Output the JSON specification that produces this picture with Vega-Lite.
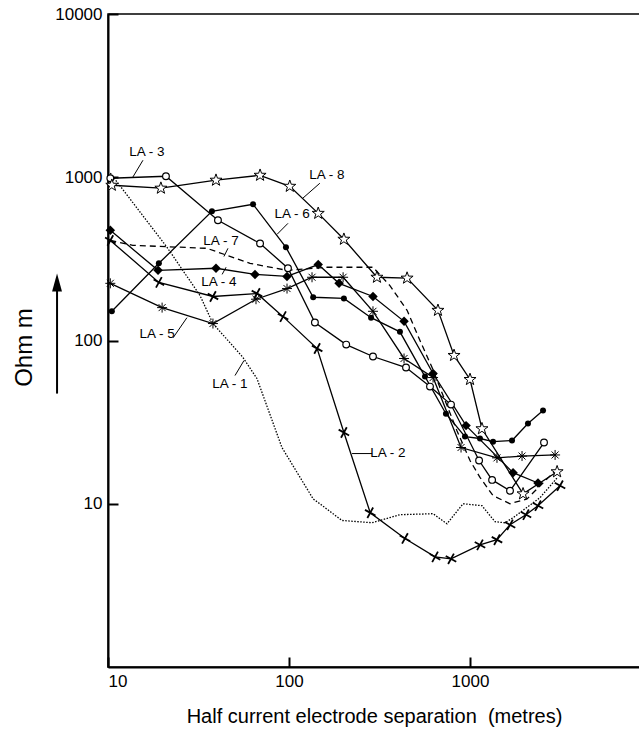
{
  "$schema": "https://vega.github.io/schema/vega-lite/v6.json",
  "width": 532,
  "height": 653,
  "autosize": {"type": "none"},
  "padding": {"left": 108, "top": 14, "right": 0, "bottom": 63},
  "background": "white",
  "config": {
    "view": {"stroke": "black", "strokeWidth": 1.5},
    "font": "Liberation Sans",
    "axis": {
      "domainColor": "black", "domainWidth": 2, "tickColor": "black", "tickWidth": 2,
      "tickSize": -10, "labelColor": "black", "labelFont": "Liberation Sans", "labelFontSize": 17,
      "labelPadding": 16, "grid": false, "titleColor": "black", "titleFont": "Liberation Sans",
      "titleFontWeight": "normal"
    }
  },
  "datasets": {
    "curves": [
      {"series": "LA-1", "x": 10.3, "y": 1059}, {"series": "LA-1", "x": 21.2, "y": 372}, {"series": "LA-1", "x": 32.2, "y": 189},
      {"series": "LA-1", "x": 38, "y": 127}, {"series": "LA-1", "x": 55.7, "y": 78.7}, {"series": "LA-1", "x": 66.5, "y": 58.5},
      {"series": "LA-1", "x": 91.4, "y": 22.1}, {"series": "LA-1", "x": 136, "y": 10.7}, {"series": "LA-1", "x": 148, "y": 10},
      {"series": "LA-1", "x": 196, "y": 7.9}, {"series": "LA-1", "x": 288, "y": 7.65}, {"series": "LA-1", "x": 410, "y": 8.57},
      {"series": "LA-1", "x": 625, "y": 8.69}, {"series": "LA-1", "x": 746, "y": 7.54}, {"series": "LA-1", "x": 915, "y": 10},
      {"series": "LA-1", "x": 1164, "y": 9.73}, {"series": "LA-1", "x": 1374, "y": 7.76}, {"series": "LA-1", "x": 1560, "y": 7.65},
      {"series": "LA-1", "x": 1729, "y": 8.21}, {"series": "LA-1", "x": 2437, "y": 10.9}, {"series": "LA-1", "x": 3027, "y": 14.4},

      {"series": "LA-2", "x": 10.3, "y": 410}, {"series": "LA-2", "x": 19.1, "y": 227}, {"series": "LA-2", "x": 38, "y": 186},
      {"series": "LA-2", "x": 66.5, "y": 194}, {"series": "LA-2", "x": 92.7, "y": 140}, {"series": "LA-2", "x": 143, "y": 89.3},
      {"series": "LA-2", "x": 201, "y": 27.3}, {"series": "LA-2", "x": 281, "y": 8.81}, {"series": "LA-2", "x": 437, "y": 6.13},
      {"series": "LA-2", "x": 641, "y": 4.73}, {"series": "LA-2", "x": 785, "y": 4.6}, {"series": "LA-2", "x": 1135, "y": 5.6},
      {"series": "LA-2", "x": 1409, "y": 6.02}, {"series": "LA-2", "x": 1663, "y": 7.43}, {"series": "LA-2", "x": 2037, "y": 8.57},
      {"series": "LA-2", "x": 2374, "y": 9.73}, {"series": "LA-2", "x": 3142, "y": 12.9},

      {"series": "LA-3", "x": 10.3, "y": 986}, {"series": "LA-3", "x": 20.9, "y": 1014}, {"series": "LA-3", "x": 40.5, "y": 545},
      {"series": "LA-3", "x": 69.2, "y": 393}, {"series": "LA-3", "x": 98.7, "y": 277}, {"series": "LA-3", "x": 139, "y": 129},
      {"series": "LA-3", "x": 207, "y": 94.4}, {"series": "LA-3", "x": 291, "y": 79.8}, {"series": "LA-3", "x": 443, "y": 68.3},
      {"series": "LA-3", "x": 601, "y": 52.2}, {"series": "LA-3", "x": 785, "y": 40.5}, {"series": "LA-3", "x": 1122, "y": 18.4},
      {"series": "LA-3", "x": 1324, "y": 14.0}, {"series": "LA-3", "x": 1663, "y": 12.0}, {"series": "LA-3", "x": 2563, "y": 23.7},

      {"series": "LA-4", "x": 10.3, "y": 473}, {"series": "LA-4", "x": 18.9, "y": 269}, {"series": "LA-4", "x": 39.5, "y": 277},
      {"series": "LA-4", "x": 64.9, "y": 254}, {"series": "LA-4", "x": 97.5, "y": 247}, {"series": "LA-4", "x": 145, "y": 292},
      {"series": "LA-4", "x": 189, "y": 224}, {"series": "LA-4", "x": 291, "y": 186}, {"series": "LA-4", "x": 432, "y": 131},
      {"series": "LA-4", "x": 625, "y": 62.8}, {"series": "LA-4", "x": 951, "y": 30.1}, {"series": "LA-4", "x": 1729, "y": 15.5},
      {"series": "LA-4", "x": 2374, "y": 13.4},

      {"series": "LA-5", "x": 10.3, "y": 224}, {"series": "LA-5", "x": 19.9, "y": 159}, {"series": "LA-5", "x": 38, "y": 127},
      {"series": "LA-5", "x": 65.7, "y": 179}, {"series": "LA-5", "x": 97.5, "y": 208}, {"series": "LA-5", "x": 134, "y": 244},
      {"series": "LA-5", "x": 199, "y": 244}, {"series": "LA-5", "x": 291, "y": 151}, {"series": "LA-5", "x": 432, "y": 77.6},
      {"series": "LA-5", "x": 625, "y": 59.3}, {"series": "LA-5", "x": 892, "y": 22.1}, {"series": "LA-5", "x": 1409, "y": 19.1},
      {"series": "LA-5", "x": 1938, "y": 19.6}, {"series": "LA-5", "x": 2951, "y": 19.9},

      {"series": "LA-6", "x": 10.5, "y": 151}, {"series": "LA-6", "x": 19.1, "y": 297}, {"series": "LA-6", "x": 37.5, "y": 618},
      {"series": "LA-6", "x": 63.3, "y": 683}, {"series": "LA-6", "x": 96.2, "y": 372}, {"series": "LA-6", "x": 136, "y": 184},
      {"series": "LA-6", "x": 201, "y": 181}, {"series": "LA-6", "x": 284, "y": 138}, {"series": "LA-6", "x": 410, "y": 113},
      {"series": "LA-6", "x": 564, "y": 60.1}, {"series": "LA-6", "x": 736, "y": 35.6}, {"series": "LA-6", "x": 938, "y": 25.8},
      {"series": "LA-6", "x": 1135, "y": 25.1}, {"series": "LA-6", "x": 1340, "y": 24.0}, {"series": "LA-6", "x": 1706, "y": 24.4},
      {"series": "LA-6", "x": 2090, "y": 31.0}, {"series": "LA-6", "x": 2531, "y": 37.2},

      {"series": "LA-7", "x": 10.3, "y": 410}, {"series": "LA-7", "x": 13.7, "y": 383}, {"series": "LA-7", "x": 35.2, "y": 367},
      {"series": "LA-7", "x": 60.9, "y": 297}, {"series": "LA-7", "x": 97.5, "y": 269}, {"series": "LA-7", "x": 162, "y": 281},
      {"series": "LA-7", "x": 291, "y": 281}, {"series": "LA-7", "x": 361, "y": 217}, {"series": "LA-7", "x": 449, "y": 153},
      {"series": "LA-7", "x": 529, "y": 100}, {"series": "LA-7", "x": 617, "y": 68.3}, {"series": "LA-7", "x": 847, "y": 28},
      {"series": "LA-7", "x": 1000, "y": 18.4}, {"series": "LA-7", "x": 1135, "y": 14.5}, {"series": "LA-7", "x": 1340, "y": 11.2},
      {"series": "LA-7", "x": 1663, "y": 10.0}, {"series": "LA-7", "x": 2065, "y": 10.7}, {"series": "LA-7", "x": 2951, "y": 15.9},

      {"series": "LA-8", "x": 10.5, "y": 893}, {"series": "LA-8", "x": 19.6, "y": 857}, {"series": "LA-8", "x": 39.5, "y": 959},
      {"series": "LA-8", "x": 69.2, "y": 1028}, {"series": "LA-8", "x": 101, "y": 880}, {"series": "LA-8", "x": 145, "y": 601},
      {"series": "LA-8", "x": 201, "y": 417}, {"series": "LA-8", "x": 306, "y": 244}, {"series": "LA-8", "x": 449, "y": 241},
      {"series": "LA-8", "x": 665, "y": 153}, {"series": "LA-8", "x": 816, "y": 81}, {"series": "LA-8", "x": 1000, "y": 57.7},
      {"series": "LA-8", "x": 1164, "y": 28.8}, {"series": "LA-8", "x": 1963, "y": 11.5}, {"series": "LA-8", "x": 3027, "y": 15.7}
    ],
    "labels": [
      {"label": "LA - 1", "x": 47.2, "y": 54.5},
      {"label": "LA - 2", "x": 352, "y": 20.6},
      {"label": "LA - 3", "x": 16.4, "y": 1423},
      {"label": "LA - 4", "x": 41, "y": 227},
      {"label": "LA - 5", "x": 18.7, "y": 110},
      {"label": "LA - 6", "x": 104, "y": 593},
      {"label": "LA - 7", "x": 42.1, "y": 405},
      {"label": "LA - 8", "x": 162, "y": 1028}
    ],
    "leaders": [
      {"x": 15.6, "y": 1271, "x2": 13.7, "y2": 1000},
      {"x": 148, "y": 919, "x2": 119, "y2": 743},
      {"x": 98.7, "y": 522, "x2": 85.9, "y2": 447},
      {"x": 46.0, "y": 367, "x2": 43.7, "y2": 327},
      {"x": 42.7, "y": 254, "x2": 44.9, "y2": 281},
      {"x": 22.9, "y": 104, "x2": 27.3, "y2": 138},
      {"x": 50.3, "y": 61.0, "x2": 56.4, "y2": 75.4},
      {"x": 223, "y": 20.3, "x2": 288, "y2": 20.3}
    ],
    "arrow": [
      {"x": 5.23, "y": 47.3, "y2": 227}
    ]
  },
  "encoding": {
    "x": {
      "field": "x", "type": "quantitative",
      "scale": {"type": "log", "domain": [10, 8690], "nice": false},
      "axis": {
        "values": [10, 100, 1000], "format": "d", "labelFlush": true,
        "title": "Half current electrode separation\u00a0 (metres)", "titleFontSize": 20, "titlePadding": 17
      }
    },
    "y": {
      "field": "y", "type": "quantitative",
      "scale": {"type": "log", "domain": [1, 10000], "nice": false},
      "axis": {
        "values": [10, 100, 1000, 10000], "format": "d",
        "title": "Ohm m", "titleFontSize": 24,
        "titleAngle": -90, "titleX": -84, "titleY": 333, "titleAlign": "center", "titleBaseline": "middle"
      }
    }
  },
  "layer": [
    {
      "data": {"name": "curves"},
      "transform": [{"filter": "datum.series !== 'LA-1' && datum.series !== 'LA-7'"}],
      "mark": {"type": "line", "color": "black", "strokeWidth": 1.3},
      "encoding": {"detail": {"field": "series", "type": "nominal"}}
    },
    {
      "data": {"name": "curves"},
      "transform": [{"filter": "datum.series === 'LA-1'"}],
      "mark": {"type": "line", "color": "black", "strokeWidth": 1.3, "strokeDash": [1.5, 1.5]},
      "encoding": {}
    },
    {
      "data": {"name": "curves"},
      "transform": [{"filter": "datum.series === 'LA-7'"}],
      "mark": {"type": "line", "color": "black", "strokeWidth": 1.3, "strokeDash": [6, 4]},
      "encoding": {}
    },
    {
      "data": {"name": "curves"},
      "transform": [{"filter": "datum.series === 'LA-3'"}],
      "mark": {"type": "point", "shape": "circle", "filled": true, "fill": "white", "stroke": "black", "strokeWidth": 1.2, "size": 45, "opacity": 1}
    },
    {
      "data": {"name": "curves"},
      "transform": [{"filter": "datum.series === 'LA-6'"}],
      "mark": {"type": "point", "shape": "circle", "filled": true, "fill": "black", "size": 36, "opacity": 1}
    },
    {
      "data": {"name": "curves"},
      "transform": [{"filter": "datum.series === 'LA-4'"}],
      "mark": {"type": "point", "shape": "diamond", "filled": true, "fill": "black", "size": 90, "opacity": 1}
    },
    {
      "data": {"name": "curves"},
      "transform": [{"filter": "datum.series === 'LA-8'"}],
      "mark": {"type": "point", "shape": "M0,-1L0.235,-0.324L0.951,-0.309L0.38,0.124L0.588,0.809L0,0.4L-0.588,0.809L-0.38,0.124L-0.951,-0.309L-0.235,-0.324Z", "filled": true, "fill": "white", "stroke": "black", "strokeWidth": 1, "size": 160, "opacity": 1}
    },
    {
      "data": {"name": "curves"},
      "transform": [{"filter": "datum.series === 'LA-5'"}],
      "mark": {"type": "point", "shape": "M-1,0L1,0M0,-1L0,1M-0.7,-0.7L0.7,0.7M-0.7,0.7L0.7,-0.7", "filled": false, "stroke": "black", "strokeWidth": 1, "size": 100, "opacity": 1}
    },
    {
      "data": {"name": "curves"},
      "transform": [{"filter": "datum.series === 'LA-2'"}],
      "mark": {"type": "point", "shape": "M-1,-0.55L1,0.55M-0.55,1L0.55,-1", "filled": false, "stroke": "black", "strokeWidth": 1.8, "size": 110, "opacity": 1}
    },
    {
      "data": {"name": "leaders"},
      "mark": {"type": "rule", "color": "black", "strokeWidth": 1},
      "encoding": {"x2": {"field": "x2"}, "y2": {"field": "y2"}}
    },
    {
      "data": {"name": "labels"},
      "mark": {"type": "text", "font": "Liberation Sans", "fontSize": 13.5, "color": "black", "align": "center", "baseline": "middle"},
      "encoding": {"text": {"field": "label", "type": "nominal"}}
    },
    {
      "data": {"name": "arrow"},
      "mark": {"type": "rule", "color": "black", "strokeWidth": 2, "clip": false},
      "encoding": {"y2": {"field": "y2"}}
    },
    {
      "data": {"name": "arrow"},
      "mark": {"type": "point", "shape": "M0,-1L0.55,1L-0.55,1Z", "filled": true, "fill": "black", "size": 324, "opacity": 1, "clip": false},
      "encoding": {"y": {"field": "y2", "type": "quantitative"}}
    }
  ]
}
